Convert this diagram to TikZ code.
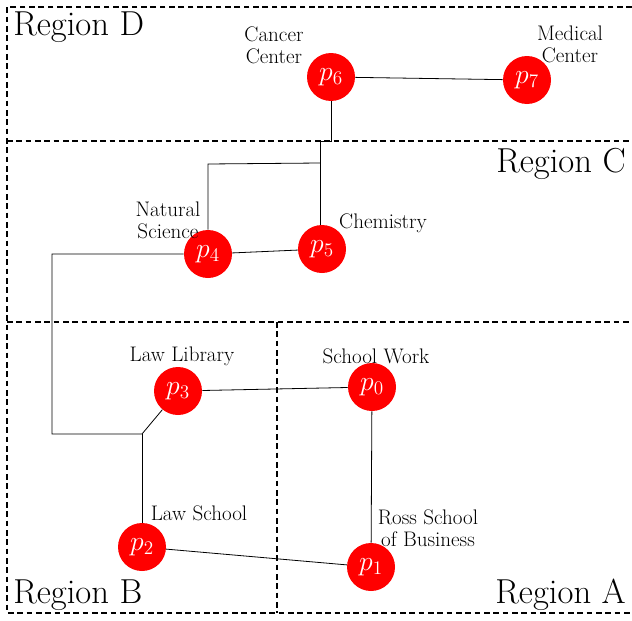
\documentclass[tikz,border=0pt]{standalone}
\begin{document}
\begin{tikzpicture}[x=0.75pt,y=-0.75pt,
  regionline/.style={line width=2pt,dash pattern=on 4.2pt off 2.8pt},
  pnode/.style={circle,fill=red,draw=none,minimum size=36pt,inner sep=0pt,text=white,font=\fontsize{21}{24}\selectfont},
  place/.style={align=center,inner sep=0pt,font=\fontsize{15.8}{16.5}\selectfont},
  regionlbl/.style={inner sep=0pt,font=\fontsize{26}{30}\selectfont},
  conn/.style={line width=0.6pt}]
\useasboundingbox (0,0) rectangle (632,621);
% region boundaries
\draw[regionline] (632,7) -- (7,7) -- (7,613) -- (632,613);
\draw[regionline] (7,141) -- (632,141);
\draw[regionline] (7,322) -- (632,322);
\draw[regionline] (277,322) -- (277,613);
% region labels
\node[regionlbl,anchor=base west] (rD) at (13,36) {Region D};
\node[regionlbl,anchor=base east] (rC) at (626,172) {Region C};
\node[regionlbl,anchor=base west] (rB) at (13,603) {Region B};
\node[regionlbl,anchor=base east] (rA) at (626,603) {Region A};
% nodes
\node[pnode] (p0) at (372,387) {$p_0$};
\node[pnode] (p1) at (371,567) {$p_1$};
\node[pnode] (p2) at (142,547) {$p_2$};
\node[pnode] (p3) at (178,391) {$p_3$};
\node[pnode] (p4) at (208,254) {$p_4$};
\node[pnode] (p5) at (322,249) {$p_5$};
\node[pnode] (p6) at (331,77) {$p_6$};
\node[pnode] (p7) at (527,80) {$p_7$};
% place labels
\node[place] (l6) at (274,45) {Cancer\\Center};
\node[place] (l7) at (570,44) {Medical\\Center};
\node[place] (l4) at (168,220) {Natural\\Science};
\node[place] (l5) at (383,223) {Chemistry};
\node[place] (l3) at (182,356) {Law Library};
\node[place] (l0) at (376,356) {School Work};
\node[place] (l2) at (199,513) {Law School};
\node[place] (l1) at (428,528) {Ross School\\of Business};
% junctions
\coordinate (j1) at (331,141);
\coordinate (j2) at (320,141);
\coordinate (j3) at (320,163);
\coordinate (j4) at (208,164);
\coordinate (j5) at (52,254);
\coordinate (j6) at (52,434);
\coordinate (j7) at (142,434);
% connectors
\draw[conn] (p6) -- (p7);
\draw[conn] (p6) -- (j1) -- (j2) -- (j2 |- p5.north);
\draw[conn] (j3) -- (j4) -- (p4);
\draw[conn] (p4) -- (p5);
\draw[conn] (p4) -- (j5) -- (j6) -- (j7) -- (p3);
\draw[conn] (j7) -- (p2);
\draw[conn] (p3) -- (p0);
\draw[conn] (p0) -- (p1);
\draw[conn] (p2) -- (p1);
\end{tikzpicture}
\end{document}
